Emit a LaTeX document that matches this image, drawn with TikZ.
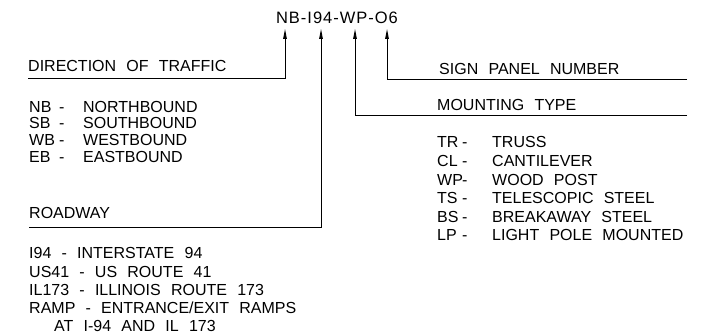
\documentclass[tikz,border=0pt]{standalone}
\usepackage{fontspec}
\setmainfont{Liberation Sans}[WordSpace=2.3]
\usetikzlibrary{arrows.meta}
\newcommand\lrow[5]{\makebox[#1][l]{#3}\makebox[#2][l]{-}#4}
\begin{document}
\begin{tikzpicture}[x=1pt,y=-1pt,
  txt/.style={anchor=base west,inner sep=0pt,font=\fontsize{16}{18}\selectfont},
  ttl/.style={anchor=base,inner sep=0pt,font=\fontsize{16.5}{18}\selectfont\addfontfeature{LetterSpace=6}},
  lead/.style={line width=0.9pt,-{Triangle[length=10pt,width=3.6pt]}}]
\useasboundingbox (0,0) rectangle (703,336);

% title
\node[ttl] (title) at (337,24) {NB-I94-WP-O6};
\coordinate (tNB) at (285,29);
\coordinate (tRD) at (321,29);
\coordinate (tMT) at (355,29);
\coordinate (tSP) at (387,29);

% leader lines
\coordinate (dirL) at (28,78);
\coordinate (dirR) at (285,78);
\draw[lead] (dirL) -- (dirR) -- (tNB);

\coordinate (rdL) at (29,227);
\coordinate (rdR) at (321,227);
\draw[lead] (rdL) -- (rdR) -- (tRD);

\coordinate (mtR) at (687,115);
\coordinate (mtL) at (355,115);
\draw[lead] (mtR) -- (mtL) -- (tMT);

\coordinate (spR) at (687,79);
\coordinate (spL) at (387,79);
\draw[lead] (spR) -- (spL) -- (tSP);

% direction of traffic
\node[txt] (dirH) at (28,72) {DIRECTION OF TRAFFIC};
\node[txt] (d1) at (29,112.3) {\lrow{30pt}{24pt}{NB}{NORTHBOUND}{}};
\node[txt] (d2) at (29,129)   {\lrow{30pt}{24pt}{SB}{SOUTHBOUND}{}};
\node[txt] (d3) at (29,145.7) {\lrow{30pt}{24pt}{WB}{WESTBOUND}{}};
\node[txt] (d4) at (29,162.4) {\lrow{30pt}{24pt}{EB}{EASTBOUND}{}};

% sign panel number
\node[txt] (spH) at (439,75) {SIGN PANEL NUMBER};

% mounting type
\node[txt] (mtH) at (437,111) {MOUNTING TYPE};
\node[txt] (m1) at (437,148)   {\lrow{25pt}{30pt}{TR}{TRUSS}{}};
\node[txt] (m2) at (437,166.6) {\lrow{25pt}{30pt}{CL}{CANTILEVER}{}};
\node[txt] (m3) at (437,185.2) {\lrow{25pt}{30pt}{WP}{WOOD POST}{}};
\node[txt] (m4) at (437,203.8) {\lrow{25pt}{30pt}{TS}{TELESCOPIC STEEL}{}};
\node[txt] (m5) at (437,222.4) {\lrow{25pt}{30pt}{BS}{BREAKAWAY STEEL}{}};
\node[txt] (m6) at (437,241)   {\lrow{25pt}{30pt}{LP}{LIGHT POLE MOUNTED}{}};

% roadway
\node[txt] (rdH) at (29,219) {ROADWAY};
\node[txt] (r1) at (29,259) {I94 - INTERSTATE 94};
\node[txt] (r2) at (29,277) {US41 - US ROUTE 41};
\node[txt] (r3) at (29,295) {IL173 - ILLINOIS ROUTE 173};
\node[txt] (r4) at (29,313) {RAMP - ENTRANCE/EXIT RAMPS};
\node[txt] (r5) at (54,331) {AT I-94 AND IL 173};
\end{tikzpicture}
\end{document}
